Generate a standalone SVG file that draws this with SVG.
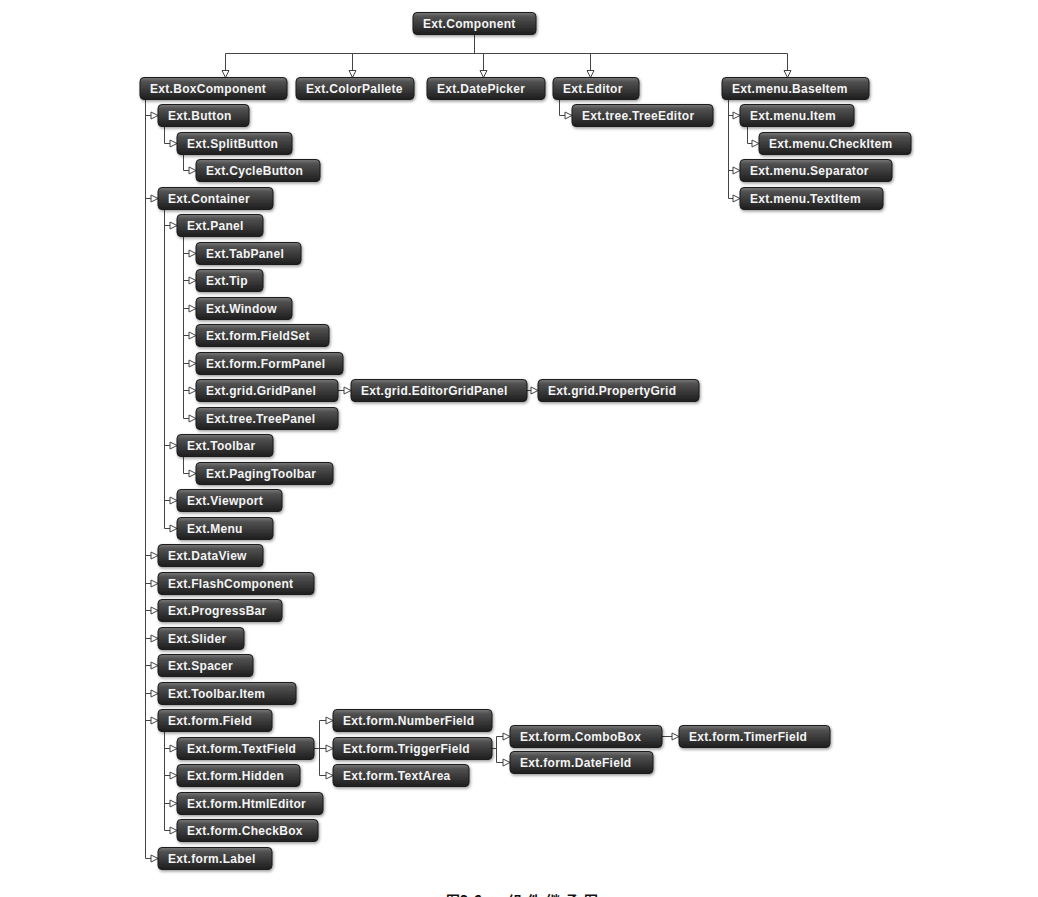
<svg xmlns="http://www.w3.org/2000/svg" width="1038" height="897" viewBox="0 0 1038 897">
  <defs>
    <linearGradient id="boxFill" x1="0" y1="0" x2="0" y2="1">
      <stop offset="0" stop-color="#7a7a7a"/>
      <stop offset="0.18" stop-color="#525252"/>
      <stop offset="0.6" stop-color="#363636"/>
      <stop offset="1" stop-color="#1e1e1e"/>
    </linearGradient>
    <filter id="shade" x="-10%" y="-30%" width="120%" height="170%">
      <feDropShadow dx="1" dy="1.5" stdDeviation="1.4" flood-color="#000" flood-opacity="0.4"/>
    </filter>
    <marker id="tri" viewBox="0 0 9 9" refX="8" refY="4.5" markerWidth="9" markerHeight="9" markerUnits="userSpaceOnUse" orient="auto">
      <path d="M1,1 L8,4.5 L1,8 Z" fill="#fff" stroke="#444" stroke-width="1"/>
    </marker>
    <style>
      .box { fill: url(#boxFill); stroke: #1a1a1a; stroke-width: 1; filter: url(#shade); }
      .lbl { font-family: "Liberation Sans", Arial, sans-serif; font-weight: bold; font-size: 12px; fill: #f4f4f4; letter-spacing: 0.3px; }
      .wire { fill: none; stroke: #444; stroke-width: 1; }
      .arr { marker-end: url(#tri); }
      .cap { font-family: "Noto Sans CJK SC", "Liberation Sans", sans-serif; font-weight: bold; font-size: 14px; fill: #111; }
    </style>
  </defs>

  <rect width="1038" height="897" fill="#fff"/>

  <!-- inheritance connectors -->
  <g id="connectors">
    <!-- root to first level -->
    <path class="wire" d="M474.5,34.5 V53.5 M225.5,53.5 H787.5"/>
    <path class="wire arr" d="M225.5,53.5 V77.5"/>
    <path class="wire arr" d="M352.5,53.5 V77.5"/>
    <path class="wire arr" d="M483.5,53.5 V77.5"/>
    <path class="wire arr" d="M590.5,53.5 V77.5"/>
    <path class="wire arr" d="M787.5,53.5 V77.5"/>

    <!-- Ext.BoxComponent subtree -->
    <path class="wire" d="M145.5,99.5 V858.5"/>
    <path class="wire arr" d="M145.5,115.5 H158"/>
    <path class="wire arr" d="M145.5,198.5 H158"/>
    <path class="wire arr" d="M145.5,555.5 H158"/>
    <path class="wire arr" d="M145.5,583.5 H158"/>
    <path class="wire arr" d="M145.5,610.5 H158"/>
    <path class="wire arr" d="M145.5,638.5 H158"/>
    <path class="wire arr" d="M145.5,665.5 H158"/>
    <path class="wire arr" d="M145.5,693.5 H158"/>
    <path class="wire arr" d="M145.5,720.5 H158"/>
    <path class="wire arr" d="M145.5,858.5 H158"/>

    <!-- Ext.Button / Ext.SplitButton -->
    <path class="wire" d="M164.5,126.5 V143.5"/>
    <path class="wire arr" d="M164.5,143.5 H177"/>
    <path class="wire" d="M183.5,154.5 V170.5"/>
    <path class="wire arr" d="M183.5,170.5 H196"/>

    <!-- Ext.Container -->
    <path class="wire" d="M164.5,209.5 V528.5"/>
    <path class="wire arr" d="M164.5,225.5 H177"/>
    <path class="wire arr" d="M164.5,445.5 H177"/>
    <path class="wire arr" d="M164.5,500.5 H177"/>
    <path class="wire arr" d="M164.5,528.5 H177"/>

    <!-- Ext.Panel -->
    <path class="wire" d="M183.5,236.5 V418.5"/>
    <path class="wire arr" d="M183.5,253.5 H196"/>
    <path class="wire arr" d="M183.5,280.5 H196"/>
    <path class="wire arr" d="M183.5,308.5 H196"/>
    <path class="wire arr" d="M183.5,335.5 H196"/>
    <path class="wire arr" d="M183.5,363.5 H196"/>
    <path class="wire arr" d="M183.5,390.5 H196"/>
    <path class="wire arr" d="M183.5,418.5 H196"/>

    <!-- grid chain -->
    <path class="wire arr" d="M338,390.5 H351"/>
    <path class="wire arr" d="M527,390.5 H538"/>

    <!-- Ext.Toolbar -->
    <path class="wire" d="M183.5,456.5 V473.5"/>
    <path class="wire arr" d="M183.5,473.5 H196"/>

    <!-- Ext.form.Field -->
    <path class="wire" d="M164.5,731.5 V830.5"/>
    <path class="wire arr" d="M164.5,748.5 H177"/>
    <path class="wire arr" d="M164.5,775.5 H177"/>
    <path class="wire arr" d="M164.5,803.5 H177"/>
    <path class="wire arr" d="M164.5,830.5 H177"/>

    <!-- Ext.form.TextField -->
    <path class="wire" d="M314,748.5 H319.5 M319.5,720.5 V775.5"/>
    <path class="wire arr" d="M319.5,720.5 H333"/>
    <path class="wire arr" d="M319.5,748.5 H333"/>
    <path class="wire arr" d="M319.5,775.5 H333"/>

    <!-- Ext.form.TriggerField -->
    <path class="wire" d="M492,748.5 H496.5 M496.5,736.5 V762.5"/>
    <path class="wire arr" d="M496.5,736.5 H510"/>
    <path class="wire arr" d="M496.5,762.5 H510"/>
    <path class="wire arr" d="M662,736.5 H679"/>

    <!-- Ext.Editor -->
    <path class="wire" d="M559.5,99.5 V115.5"/>
    <path class="wire arr" d="M559.5,115.5 H572"/>

    <!-- Ext.menu.BaseItem -->
    <path class="wire" d="M728.5,99.5 V198.5"/>
    <path class="wire arr" d="M728.5,115.5 H740"/>
    <path class="wire arr" d="M728.5,170.5 H740"/>
    <path class="wire arr" d="M728.5,198.5 H740"/>
    <path class="wire" d="M747.5,126.5 V143.5"/>
    <path class="wire arr" d="M747.5,143.5 H759"/>
  </g>

  <!-- class nodes -->
  <g id="ext-component" transform="translate(413,12.5)"><rect class="box" width="123" height="22" rx="4"/><text class="lbl" x="10" y="15.5">Ext.Component</text></g>

  <g id="ext-boxcomponent" transform="translate(140,77.5)"><rect class="box" width="147" height="22" rx="4"/><text class="lbl" x="10" y="15.5">Ext.BoxComponent</text></g>
  <g id="ext-colorpallete" transform="translate(296,77.5)"><rect class="box" width="118" height="22" rx="4"/><text class="lbl" x="10" y="15.5">Ext.ColorPallete</text></g>
  <g id="ext-datepicker" transform="translate(427,77.5)"><rect class="box" width="118" height="22" rx="4"/><text class="lbl" x="10" y="15.5">Ext.DatePicker</text></g>
  <g id="ext-editor" transform="translate(553,77.5)"><rect class="box" width="86" height="22" rx="4"/><text class="lbl" x="10" y="15.5">Ext.Editor</text></g>
  <g id="ext-menu-baseitem" transform="translate(722,77.5)"><rect class="box" width="147" height="22" rx="4"/><text class="lbl" x="10" y="15.5">Ext.menu.BaseItem</text></g>

  <g id="ext-tree-treeeditor" transform="translate(572,104.5)"><rect class="box" width="141" height="22" rx="4"/><text class="lbl" x="10" y="15.5">Ext.tree.TreeEditor</text></g>
  <g id="ext-menu-item" transform="translate(740,104.5)"><rect class="box" width="114" height="22" rx="4"/><text class="lbl" x="10" y="15.5">Ext.menu.Item</text></g>
  <g id="ext-menu-checkitem" transform="translate(759,132.5)"><rect class="box" width="152" height="22" rx="4"/><text class="lbl" x="10" y="15.5">Ext.menu.CheckItem</text></g>
  <g id="ext-menu-separator" transform="translate(740,159.5)"><rect class="box" width="152" height="22" rx="4"/><text class="lbl" x="10" y="15.5">Ext.menu.Separator</text></g>
  <g id="ext-menu-textitem" transform="translate(740,187.5)"><rect class="box" width="143" height="22" rx="4"/><text class="lbl" x="10" y="15.5">Ext.menu.TextItem</text></g>

  <g id="ext-button" transform="translate(158,104.5)"><rect class="box" width="91" height="22" rx="4"/><text class="lbl" x="10" y="15.5">Ext.Button</text></g>
  <g id="ext-splitbutton" transform="translate(177,132.5)"><rect class="box" width="115" height="22" rx="4"/><text class="lbl" x="10" y="15.5">Ext.SplitButton</text></g>
  <g id="ext-cyclebutton" transform="translate(196,159.5)"><rect class="box" width="124" height="22" rx="4"/><text class="lbl" x="10" y="15.5">Ext.CycleButton</text></g>
  <g id="ext-container" transform="translate(158,187.5)"><rect class="box" width="115" height="22" rx="4"/><text class="lbl" x="10" y="15.5">Ext.Container</text></g>
  <g id="ext-panel" transform="translate(177,214.5)"><rect class="box" width="86" height="22" rx="4"/><text class="lbl" x="10" y="15.5">Ext.Panel</text></g>
  <g id="ext-tabpanel" transform="translate(196,242.5)"><rect class="box" width="105" height="22" rx="4"/><text class="lbl" x="10" y="15.5">Ext.TabPanel</text></g>
  <g id="ext-tip" transform="translate(196,269.5)"><rect class="box" width="67" height="22" rx="4"/><text class="lbl" x="10" y="15.5">Ext.Tip</text></g>
  <g id="ext-window" transform="translate(196,297.5)"><rect class="box" width="96" height="22" rx="4"/><text class="lbl" x="10" y="15.5">Ext.Window</text></g>
  <g id="ext-form-fieldset" transform="translate(196,324.5)"><rect class="box" width="133" height="22" rx="4"/><text class="lbl" x="10" y="15.5">Ext.form.FieldSet</text></g>
  <g id="ext-form-formpanel" transform="translate(196,352.5)"><rect class="box" width="147" height="22" rx="4"/><text class="lbl" x="10" y="15.5">Ext.form.FormPanel</text></g>
  <g id="ext-grid-gridpanel" transform="translate(196,379.5)"><rect class="box" width="142" height="22" rx="4"/><text class="lbl" x="10" y="15.5">Ext.grid.GridPanel</text></g>
  <g id="ext-tree-treepanel" transform="translate(196,407.5)"><rect class="box" width="142" height="22" rx="4"/><text class="lbl" x="10" y="15.5">Ext.tree.TreePanel</text></g>
  <g id="ext-grid-editorgridpanel" transform="translate(351,379.5)"><rect class="box" width="176" height="22" rx="4"/><text class="lbl" x="10" y="15.5">Ext.grid.EditorGridPanel</text></g>
  <g id="ext-grid-propertygrid" transform="translate(538,379.5)"><rect class="box" width="161" height="22" rx="4"/><text class="lbl" x="10" y="15.5">Ext.grid.PropertyGrid</text></g>
  <g id="ext-toolbar" transform="translate(177,434.5)"><rect class="box" width="96" height="22" rx="4"/><text class="lbl" x="10" y="15.5">Ext.Toolbar</text></g>
  <g id="ext-pagingtoolbar" transform="translate(196,462.5)"><rect class="box" width="137" height="22" rx="4"/><text class="lbl" x="10" y="15.5">Ext.PagingToolbar</text></g>
  <g id="ext-viewport" transform="translate(177,489.5)"><rect class="box" width="105" height="22" rx="4"/><text class="lbl" x="10" y="15.5">Ext.Viewport</text></g>
  <g id="ext-menu" transform="translate(177,517.5)"><rect class="box" width="96" height="22" rx="4"/><text class="lbl" x="10" y="15.5">Ext.Menu</text></g>
  <g id="ext-dataview" transform="translate(158,544.5)"><rect class="box" width="105" height="22" rx="4"/><text class="lbl" x="10" y="15.5">Ext.DataView</text></g>
  <g id="ext-flashcomponent" transform="translate(158,572.5)"><rect class="box" width="156" height="22" rx="4"/><text class="lbl" x="10" y="15.5">Ext.FlashComponent</text></g>
  <g id="ext-progressbar" transform="translate(158,599.5)"><rect class="box" width="124" height="22" rx="4"/><text class="lbl" x="10" y="15.5">Ext.ProgressBar</text></g>
  <g id="ext-slider" transform="translate(158,627.5)"><rect class="box" width="86" height="22" rx="4"/><text class="lbl" x="10" y="15.5">Ext.Slider</text></g>
  <g id="ext-spacer" transform="translate(158,654.5)"><rect class="box" width="95" height="22" rx="4"/><text class="lbl" x="10" y="15.5">Ext.Spacer</text></g>
  <g id="ext-toolbar-item" transform="translate(158,682.5)"><rect class="box" width="138" height="22" rx="4"/><text class="lbl" x="10" y="15.5">Ext.Toolbar.Item</text></g>
  <g id="ext-form-field" transform="translate(158,709.5)"><rect class="box" width="114" height="22" rx="4"/><text class="lbl" x="10" y="15.5">Ext.form.Field</text></g>
  <g id="ext-form-textfield" transform="translate(177,737.5)"><rect class="box" width="137" height="22" rx="4"/><text class="lbl" x="10" y="15.5">Ext.form.TextField</text></g>
  <g id="ext-form-hidden" transform="translate(177,764.5)"><rect class="box" width="123" height="22" rx="4"/><text class="lbl" x="10" y="15.5">Ext.form.Hidden</text></g>
  <g id="ext-form-htmleditor" transform="translate(177,792.5)"><rect class="box" width="146" height="22" rx="4"/><text class="lbl" x="10" y="15.5">Ext.form.HtmlEditor</text></g>
  <g id="ext-form-checkbox" transform="translate(177,819.5)"><rect class="box" width="141" height="22" rx="4"/><text class="lbl" x="10" y="15.5">Ext.form.CheckBox</text></g>
  <g id="ext-form-label" transform="translate(158,847.5)"><rect class="box" width="114" height="22" rx="4"/><text class="lbl" x="10" y="15.5">Ext.form.Label</text></g>

  <g id="ext-form-numberfield" transform="translate(333,709.5)"><rect class="box" width="159" height="22" rx="4"/><text class="lbl" x="10" y="15.5">Ext.form.NumberField</text></g>
  <g id="ext-form-triggerfield" transform="translate(333,737.5)"><rect class="box" width="159" height="22" rx="4"/><text class="lbl" x="10" y="15.5">Ext.form.TriggerField</text></g>
  <g id="ext-form-textarea" transform="translate(333,764.5)"><rect class="box" width="136" height="22" rx="4"/><text class="lbl" x="10" y="15.5">Ext.form.TextArea</text></g>
  <g id="ext-form-combobox" transform="translate(510,725.5)"><rect class="box" width="152" height="22" rx="4"/><text class="lbl" x="10" y="15.5">Ext.form.ComboBox</text></g>
  <g id="ext-form-datefield" transform="translate(510,751.5)"><rect class="box" width="143" height="22" rx="4"/><text class="lbl" x="10" y="15.5">Ext.form.DateField</text></g>
  <g id="ext-form-timerfield" transform="translate(679,725.5)"><rect class="box" width="151" height="22" rx="4"/><text class="lbl" x="10" y="15.5">Ext.form.TimerField</text></g>

  <!-- figure caption, running off the lower edge -->
  <text class="cap" x="446" y="906">图3-6<tspan x="508" letter-spacing="5">组件继承图</tspan></text>
</svg>
